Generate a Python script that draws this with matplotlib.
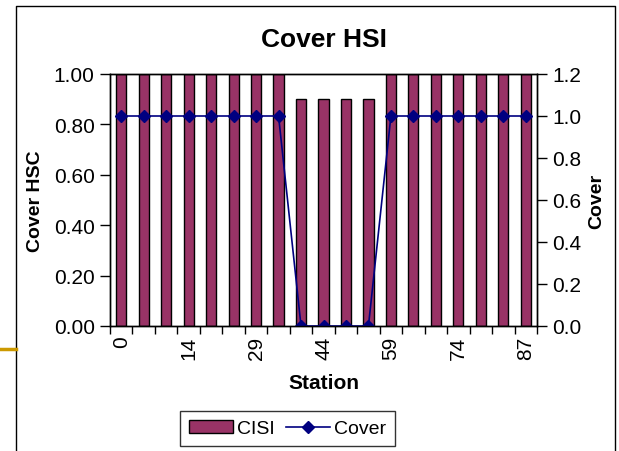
import numpy as np
import matplotlib
matplotlib.use("Agg")
import matplotlib.pyplot as plt
from matplotlib.lines import Line2D
from matplotlib.patches import Patch

plt.rcParams['font.family'] = ['Liberation Sans', 'DejaVu Sans']

# data
stations = [0, 5, 10, 14, 19, 24, 29, 34, 39, 44, 49, 54, 59, 64, 69, 74, 79, 84, 87]
cisi = [1.0, 1.0, 1.0, 1.0, 1.0, 1.0, 1.0, 1.0,
        0.9, 0.9, 0.9, 0.9,
        1.0, 1.0, 1.0, 1.0, 1.0, 1.0, 1.0]
cover = [1, 1, 1, 1, 1, 1, 1, 1,
         0, 0, 0, 0,
         1, 1, 1, 1, 1, 1, 1]
label_every = 3

W, H = 619, 452
fig = plt.figure(figsize=(W / 100, H / 100), dpi=100)
ax = fig.add_axes([110 / W, 1 - 327 / H, (537 - 110) / W, (327 - 75) / H])
ax2 = ax.twinx()

x = np.arange(len(stations))
ax.bar(x, cisi, width=0.45, color='#993366', edgecolor='black', linewidth=1.0,
       label='CISI')
ax2.plot(x, cover, color='#000080', lw=1.2, marker='D', ms=6, label='Cover')

ax.set_xlim(-0.5, len(stations) - 0.5)
ax.set_ylim(0, 1.0)
ax2.set_ylim(0, 1.2)

ax.set_yticks(np.arange(0, 1.01, 0.2))
ax.set_yticklabels(['%.2f' % v for v in np.arange(0, 1.01, 0.2)])
ax2.set_yticks(np.arange(0, 1.21, 0.2))
ax2.set_yticklabels(['%.1f' % v for v in np.arange(0, 1.21, 0.2)])

# ticks on category boundaries, labels under every third category
ax.set_xticks(np.arange(-0.5, len(stations), 1.0))
ax.set_xticklabels([])
ax.set_xticks(x[::label_every], [str(s) for s in stations[::label_every]],
              minor=True, rotation=90)
ax.tick_params(axis='x', which='minor', length=0, pad=7, labelsize=15)
ax.tick_params(axis='x', which='major', length=6, width=1, direction='out')
ax.tick_params(axis='y', length=7, width=1, labelsize=15, pad=4)
ax2.tick_params(axis='y', length=7, width=1, labelsize=15, pad=4)

for a in (ax, ax2):
    for s in a.spines.values():
        s.set_linewidth(1.0)
        s.set_color('black')

ax.set_title('Cover HSI', fontsize=19, fontweight='bold', pad=20)
ax.set_xlabel('Station', fontsize=15, fontweight='bold', labelpad=10)
ax.set_ylabel('Cover HSC', fontsize=14, fontweight='bold', labelpad=7)
ax2.set_ylabel('Cover', fontsize=14, fontweight='bold', labelpad=5)

handles = [Patch(facecolor='#993366', edgecolor='black', linewidth=1.0),
           Line2D([], [], color='#000080', lw=1.2, marker='D', ms=6)]
leg = fig.legend(handles, ['CISI', 'Cover'], loc='upper left',
                 bbox_to_anchor=(180 / W, 1 - 412 / H), ncol=2, fontsize=14,
                 frameon=True, fancybox=False, edgecolor='black',
                 handlelength=2.25, handletextpad=0.25, columnspacing=0.55,
                 borderpad=0.45, borderaxespad=0)
leg.get_frame().set_linewidth(1.0)

# outer chart frame and the slide's gold rule
fx0, fx1, fy1 = 16 / W, 615 / W, 1 - 7 / H
fig.add_artist(Line2D([fx0, fx0, fx1, fx1], [0, fy1, fy1, 0], color='black',
                      lw=1.0, transform=fig.transFigure))
fig.add_artist(Line2D([0, fx0], [1 - 350 / H, 1 - 350 / H], color='#CC9900',
                      lw=2.5, transform=fig.transFigure))

fig.savefig('out.png', dpi=100)
